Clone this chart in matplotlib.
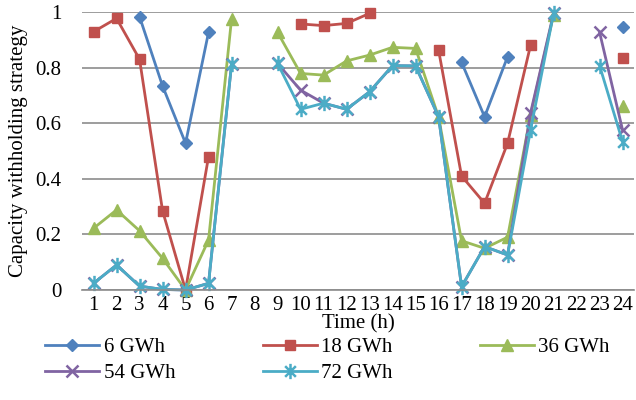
import numpy as np
import matplotlib.pyplot as plt
from matplotlib.path import Path

nan = np.nan

hours = list(range(1, 25))
labels = ['6 GWh', '18 GWh', '36 GWh', '54 GWh', '72 GWh']

s6 = [nan, nan, 0.983, 0.734, 0.528, 0.927, nan, nan, nan, nan, nan, nan,
      nan, nan, nan, nan, 0.819, 0.623, 0.839, nan, nan, nan, nan, 0.947]
s18 = [0.929, 0.977, 0.830, 0.285, 0.0, 0.480, nan, nan, nan, 0.957, 0.951, 0.959,
       0.995, nan, nan, 0.863, 0.410, 0.312, 0.528, 0.881, nan, nan, nan, 0.833]
s36 = [0.222, 0.288, 0.213, 0.114, 0.0, 0.180, 0.975, nan, 0.927, 0.779, 0.773, 0.824,
       0.845, 0.873, 0.869, 0.622, 0.177, 0.150, 0.190, 0.630, 0.990, nan, nan, 0.662]
s54 = [0.024, 0.090, 0.014, 0.002, 0.0, 0.024, 0.812, nan, 0.815, 0.719, 0.672, 0.650,
       0.713, 0.807, 0.806, 0.623, 0.012, 0.156, 0.126, 0.637, 0.995, nan, 0.927, 0.575]
s72 = [0.024, 0.090, 0.014, 0.002, 0.0, 0.024, 0.812, nan, 0.815, 0.650, 0.672, 0.650,
       0.713, 0.807, 0.806, 0.623, 0.012, 0.156, 0.126, 0.576, 0.995, nan, 0.807, 0.533]

# excel style star: an x with a vertical stroke
star = Path([(-0.7, -0.7), (0.7, 0.7), (-0.7, 0.7), (0.7, -0.7), (0, -1), (0, 1)],
            [Path.MOVETO, Path.LINETO, Path.MOVETO, Path.LINETO, Path.MOVETO, Path.LINETO])

series = [s6, s18, s36, s54, s72]
colors = ['#4F81BD', '#C0504D', '#9BBB59', '#8064A2', '#4BACC6']
markers = ['D', 's', '^', 'x', star]
msizes = [6.5, 7.5, 8, 8, 11]

plt.rcParams['font.family'] = ['Liberation Serif', 'DejaVu Serif']

fig = plt.figure(figsize=(6.36, 4.0), dpi=100)
ax = fig.add_axes([0.129, 0.275, 0.868, 0.695])

lines = []
for ys, lab, c, m, ms in zip(series, labels, colors, markers, msizes):
    ln, = ax.plot(hours, ys, color=c, lw=2.0, marker=m, ms=ms,
                  mew=1.8 if m in ('x', star) else 1,
                  mec=c, mfc=c, label=lab, clip_on=False)
    lines.append(ln)

ax.set_xlim(0.5, 24.5)
ax.set_ylim(0, 1)
ax.set_yticks([0, 0.2, 0.4, 0.6, 0.8, 1.0])
ax.set_yticklabels(['0', '0.2', '0.4', '0.6', '0.8', '1'])
ax.set_xticks(hours)
ax.set_xticklabels([str(h) for h in hours])
ax.tick_params(length=0, labelsize=15)
ax.tick_params(axis='y', pad=15)
ax.tick_params(axis='x', pad=4)
ax.grid(True, axis='y', color='#8C8C8C', lw=1.2)
ax.set_axisbelow(True)
for sp in ['top', 'right', 'left']:
    ax.spines[sp].set_visible(False)
ax.spines['bottom'].set_color('#8C8C8C')
ax.spines['bottom'].set_linewidth(1.2)

ax.set_xlabel('Time (h)', fontsize=15, labelpad=0)
ax.set_ylabel('Capacity withholding strategy', fontsize=15, labelpad=5)

# row-wise order for 3 columns
order = [0, 3, 1, 4, 2]
fig.legend([lines[i] for i in order], [labels[i] for i in order],
           loc='upper left', bbox_to_anchor=(0.058, 0.177), ncol=3, frameon=False,
           fontsize=15, handlelength=2.6, handletextpad=0.2, columnspacing=4.2,
           labelspacing=0.3, borderaxespad=0)

fig.savefig('out.png', dpi=100)
